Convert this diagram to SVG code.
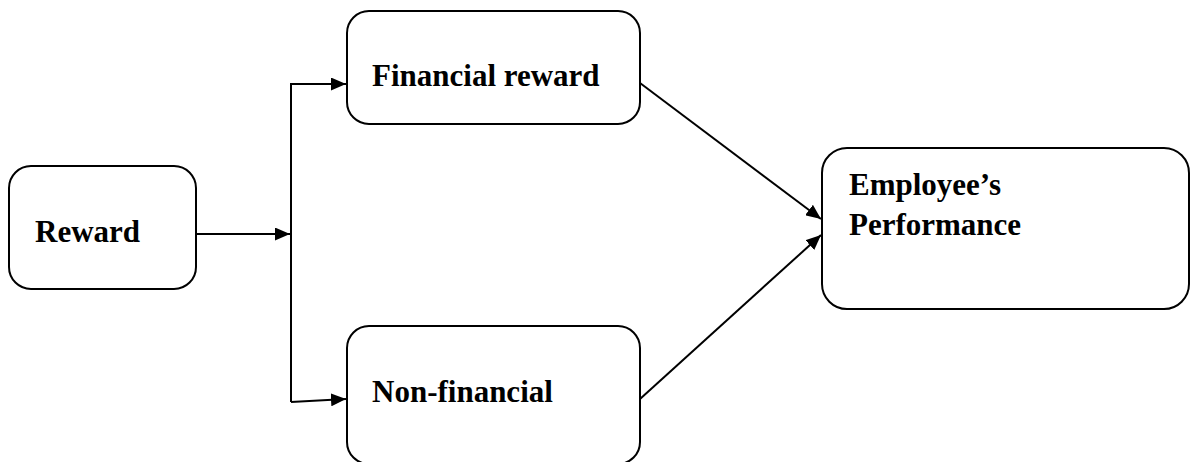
<svg xmlns="http://www.w3.org/2000/svg" width="1191" height="462" viewBox="0 0 1191 462">
<style>
.box{fill:#fff;stroke:#000;stroke-width:2}
.t{font-family:"Liberation Serif","Times New Roman",serif;font-weight:bold;font-size:31px;fill:#000}
.c{fill:none;stroke:#000;stroke-width:2}
</style>
<defs>
<marker id="ah" markerWidth="15" markerHeight="13" refX="15" refY="6.5" orient="auto" markerUnits="userSpaceOnUse" viewBox="0 0 15 13">
<path d="M0,0 L15,6.5 L0,13 z" fill="#000"/>
</marker>
</defs>
<rect width="1191" height="462" fill="#fff"/>
<g id="reward">
<rect class="box" x="9" y="166" width="187" height="123" rx="22"/>
<text class="t" x="35" y="242">Reward</text>
</g>
<g id="financial">
<rect class="box" x="347" y="11" width="293" height="113" rx="22"/>
<text class="t" x="372" y="86">Financial reward</text>
</g>
<g id="nonfinancial">
<rect class="box" x="347" y="326" width="293" height="138" rx="22"/>
<text class="t" x="372" y="402">Non-financial</text>
</g>
<g id="performance">
<rect class="box" x="822" y="148" width="367" height="161" rx="25"/>
<text class="t" x="849" y="195">Employee’s</text>
<text class="t" x="849" y="235">Performance</text>
</g>
<g id="connectors">
<line class="c" x1="196" y1="234" x2="290" y2="234" marker-end="url(#ah)"/>
<polyline class="c" points="291,402 291,84 346,84" marker-end="url(#ah)"/>
<line class="c" x1="291" y1="402" x2="346" y2="399" marker-end="url(#ah)"/>
<line class="c" x1="640" y1="83" x2="821" y2="219" marker-end="url(#ah)"/>
<line class="c" x1="640" y1="399" x2="821" y2="235" marker-end="url(#ah)"/>
</g>
</svg>
